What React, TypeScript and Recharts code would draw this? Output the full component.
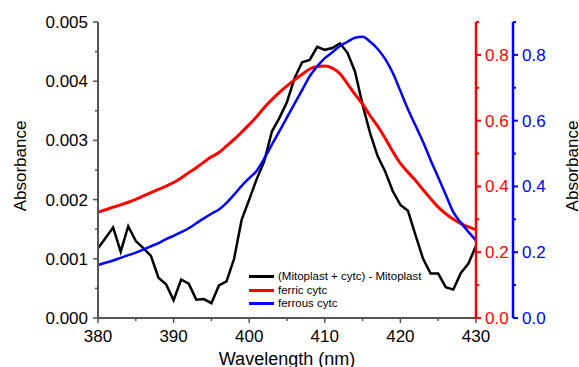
import { ComposedChart, Line, XAxis, YAxis } from 'recharts';

// wavelength grid (nm)
const wavelengths = [
  380, 381, 382, 383, 384, 385, 386, 387, 388, 389,
  390, 391, 392, 393, 394, 395, 396, 397, 398, 399,
  400, 401, 402, 403, 404, 405, 406, 407, 408, 409,
  410, 411, 412, 413, 414, 415, 416, 417, 418, 419,
  420, 421, 422, 423, 424, 425, 426, 427, 428, 429, 430,
];

// (Mitoplast + cytc) - Mitoplast, left axis
const diffAbs = [
  0.00118, 0.00135, 0.00153, 0.00112, 0.00155, 0.0013, 0.00118, 0.00105, 0.00068, 0.00057,
  0.0003, 0.00065, 0.00058, 0.00031, 0.00032, 0.00025, 0.00055, 0.00062, 0.001, 0.00166,
  0.002, 0.00235, 0.00265, 0.00315, 0.00338, 0.00365, 0.00405, 0.00432, 0.00436, 0.00458,
  0.00453, 0.00456, 0.00464, 0.00448, 0.00416, 0.0036, 0.00312, 0.00273, 0.00247, 0.00214,
  0.00191, 0.00181, 0.0014, 0.001, 0.00075, 0.00075, 0.00052, 0.00048, 0.00076, 0.00092, 0.00122,
];

// ferric cytc, red right axis
const ferricAbs = [
  0.322, 0.329, 0.337, 0.344, 0.352, 0.361, 0.371, 0.381, 0.391, 0.401,
  0.412, 0.426, 0.442, 0.457, 0.474, 0.49, 0.503, 0.523, 0.543, 0.565,
  0.588, 0.613, 0.64, 0.664, 0.686, 0.706, 0.724, 0.741, 0.757, 0.765,
  0.766, 0.76, 0.743, 0.712, 0.68, 0.65, 0.615, 0.583, 0.546, 0.506,
  0.47, 0.443, 0.418, 0.39, 0.363, 0.337, 0.317, 0.3, 0.287, 0.277, 0.268,
];

// ferrous cytc, blue right axis
const ferrousAbs = [
  0.161, 0.168, 0.175, 0.183, 0.191, 0.199, 0.208, 0.218, 0.228, 0.24,
  0.25, 0.261, 0.273, 0.288, 0.303, 0.317, 0.33, 0.35, 0.375, 0.402,
  0.425, 0.448, 0.485, 0.527, 0.568, 0.61, 0.652, 0.693, 0.735, 0.765,
  0.79, 0.808, 0.827, 0.84, 0.852, 0.855, 0.84, 0.818, 0.787, 0.745,
  0.69, 0.635, 0.585, 0.535, 0.48, 0.428, 0.375, 0.322, 0.29, 0.262, 0.236,
];

const xTicks = [380, 385, 390, 395, 400, 405, 410, 415, 420, 425, 430];
const xMajor = [380, 390, 400, 410, 420, 430];
const leftTicks = [0, 0.0005, 0.001, 0.0015, 0.002, 0.0025, 0.003, 0.0035, 0.004, 0.0045, 0.005];
const leftMajor = [0, 0.001, 0.002, 0.003, 0.004, 0.005];
const rightTicks = [0, 0.1, 0.2, 0.3, 0.4, 0.5, 0.6, 0.7, 0.8, 0.9];
const rightMajor = [0, 0.2, 0.4, 0.6, 0.8];

const series = [
  { key: 'diff', name: '(Mitoplast + cytc) - Mitoplast', color: '#000000' },
  { key: 'ferric', name: 'ferric cytc', color: '#ff0000' },
  { key: 'ferrous', name: 'ferrous cytc', color: '#0000ff' },
];

const data = wavelengths.map((w, i) => ({
  w,
  diff: diffAbs[i],
  ferric: ferricAbs[i],
  ferrous: ferrousAbs[i],
}));

const FONT = '"Liberation Sans", Arial, sans-serif';
const AXIS_GRAY = '#555555';

const isMajor = (list: number[], v: number) => list.some((m) => Math.abs(m - v) < 1e-9);

const XTick = (props: any) => {
  const { x, y, payload } = props;
  const major = isMajor(xMajor, payload.value);
  return (
    <g>
      <line x1={x} y1={y} x2={x} y2={y + (major ? 5 : 3)} stroke={AXIS_GRAY} strokeWidth={1.5} />
      {major && (
        <text x={x} y={y + 24} textAnchor="middle" fontSize={17} fontFamily={FONT} fill="#000">
          {payload.value}
        </text>
      )}
    </g>
  );
};

const LeftTick = (props: any) => {
  const { x, y, payload } = props;
  const major = isMajor(leftMajor, payload.value);
  return (
    <g>
      <line x1={x} y1={y} x2={x - (major ? 5 : 3)} y2={y} stroke={AXIS_GRAY} strokeWidth={1.5} />
      {major && (
        <text x={x - 10} y={y + 6} textAnchor="end" fontSize={17} fontFamily={FONT} fill="#000">
          {payload.value.toFixed(3)}
        </text>
      )}
    </g>
  );
};

const makeRightTick = (color: string) => (props: any) => {
  const { x, y, payload } = props;
  const major = isMajor(rightMajor, payload.value);
  return (
    <g>
      <line x1={x} y1={y} x2={x + (major ? 5 : 3)} y2={y} stroke={color} strokeWidth={2} />
      {major && (
        <text x={x + 9} y={y + 6} textAnchor="start" fontSize={17} fontFamily={FONT} fill={color}>
          {payload.value.toFixed(1)}
        </text>
      )}
    </g>
  );
};

const RedTick = makeRightTick('#ff0000');
const BlueTick = makeRightTick('#0000ff');

const SideTitle = (props: any) => {
  const { viewBox, dx } = props;
  const cx = viewBox.x + dx;
  const cy = viewBox.y + viewBox.height / 2 - 4;
  return (
    <text
      x={cx}
      y={cy}
      transform={`rotate(-90, ${cx}, ${cy})`}
      textAnchor="middle"
      dominantBaseline="central"
      fontSize={17}
      fontFamily={FONT}
      fill="#000"
    >
      Absorbance
    </text>
  );
};

// legend drawn as an overlay so it doesn't eat into the plot area
const LegendBox = () => (
  <div style={{ position: 'absolute', left: 249, top: 270, fontFamily: FONT, fontSize: 11.5, color: '#000', lineHeight: '13.5px' }}>
    {series.map((s) => (
      <div key={s.key} style={{ display: 'flex', alignItems: 'center', height: 13.5 }}>
        <span style={{ display: 'inline-block', width: 25, height: 3, background: s.color, marginRight: 4 }} />
        <span style={{ whiteSpace: 'nowrap' }}>{s.name}</span>
      </div>
    ))}
  </div>
);

export default function App() {
  return (
    <div style={{ position: 'absolute', left: 0, top: 0, width: 579, height: 367, background: '#fff' }}>
      <ComposedChart width={579} height={367} data={data} margin={{ top: 22, right: 0, bottom: 0, left: 0 }}>
        <XAxis
          dataKey="w"
          type="number"
          domain={[380, 430]}
          ticks={xTicks}
          interval={0}
          height={49}
          tickSize={0}
          tickMargin={0}
          tickLine={false}
          tick={<XTick />}
          axisLine={{ stroke: AXIS_GRAY, strokeWidth: 2 }}
          label={{
            value: 'Wavelength (nm)',
            position: 'insideBottom',
            offset: 2,
            style: { fontSize: 18, fontFamily: FONT, fill: '#000' },
          }}
        />
        <YAxis
          yAxisId="left"
          orientation="left"
          domain={[0, 0.005]}
          ticks={leftTicks}
          interval={0}
          width={98}
          tickSize={0}
          tickMargin={0}
          tickLine={false}
          tick={<LeftTick />}
          axisLine={{ stroke: AXIS_GRAY, strokeWidth: 2 }}
          label={<SideTitle dx={20} />}
        />
        <YAxis
          yAxisId="a_red"
          orientation="right"
          domain={[0, 0.9]}
          ticks={rightTicks}
          interval={0}
          width={37}
          tickSize={0}
          tickMargin={0}
          tickLine={false}
          tick={<RedTick />}
          axisLine={{ stroke: '#ff0000', strokeWidth: 2.5 }}
        />
        <YAxis
          yAxisId="b_blue"
          orientation="right"
          domain={[0, 0.9]}
          ticks={rightTicks}
          interval={0}
          width={66}
          tickSize={0}
          tickMargin={0}
          tickLine={false}
          tick={<BlueTick />}
          axisLine={{ stroke: '#0000ff', strokeWidth: 2.5 }}
          label={<SideTitle dx={59} />}
        />
        <Line
          yAxisId="left"
          dataKey="diff"
          name={series[0].name}
          type="linear"
          stroke="#000000"
          strokeWidth={2.5}
          dot={false}
          isAnimationActive={false}
        />
        <Line
          yAxisId="a_red"
          dataKey="ferric"
          name={series[1].name}
          type="monotone"
          stroke="#ff0000"
          strokeWidth={3}
          dot={false}
          isAnimationActive={false}
        />
        <Line
          yAxisId="b_blue"
          dataKey="ferrous"
          name={series[2].name}
          type="monotone"
          stroke="#0000ff"
          strokeWidth={2.5}
          dot={false}
          isAnimationActive={false}
        />
      </ComposedChart>
      <LegendBox />
    </div>
  );
}
